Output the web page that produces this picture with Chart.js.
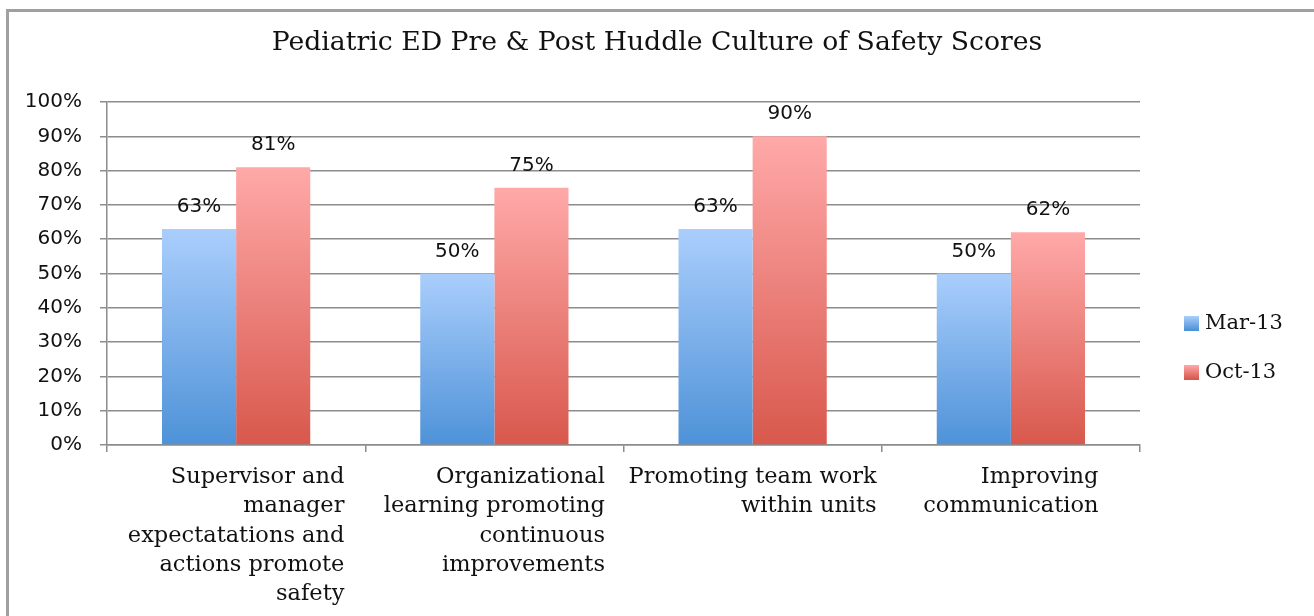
<!DOCTYPE html>
<html>
<head>
<meta charset="utf-8">
<script src="https://cdn.jsdelivr.net/npm/chart.js@4.4.0/dist/chart.umd.min.js"></script>
<style>
  html, body { margin: 0; padding: 0; background: #fff; overflow: hidden; }
  #frame { position: absolute; left: 6px; top: 9px; width: 1400px; height: 700px;
           border-left: 3px solid #a0a0a0; border-top: 3px solid #a0a0a0; }
  #wrap { position: absolute; left: 0; top: 0; width: 1314px; height: 616px; }
</style>
</head>
<body>
<div id="frame"></div>
<div id="wrap"><canvas id="chart"></canvas></div>
<script>
const categories = [
  ['Supervisor and', 'manager', 'expectatations and', 'actions promote', 'safety'],
  ['Organizational', 'learning promoting', 'continuous', 'improvements'],
  ['Promoting team work', 'within units'],
  ['Improving', 'communication']
];
const seriesNames = ['Mar-13', 'Oct-13'];
const mar13 = [63, 50, 63, 50];
const oct13 = [81, 75, 90, 62];
const yTicks = [0, 10, 20, 30, 40, 50, 60, 70, 80, 90, 100];

const slab = '"DejaVu Serif", serif';
const sans = '"DejaVu Sans", sans-serif';

const palette = [
  { top: '#aacefc', bottom: '#4e92d8', solid: '#78aee9' },
  { top: '#ffa9a9', bottom: '#d8584c', solid: '#ee8078' }
];

function barFill(i) {
  return (ctx) => {
    const chart = ctx.chart;
    if (!chart.chartArea || ctx.raw === undefined) return palette[i].solid;
    const y = chart.scales.y;
    const g = chart.ctx.createLinearGradient(0, y.getPixelForValue(ctx.raw), 0, y.getPixelForValue(0));
    g.addColorStop(0, palette[i].top);
    g.addColorStop(1, palette[i].bottom);
    return g;
  };
}

// value labels above bars
const valueLabels = {
  id: 'valueLabels',
  afterDatasetsDraw(chart) {
    const c = chart.ctx;
    c.save();
    c.font = '20px ' + sans;
    c.fillStyle = '#111';
    c.textAlign = 'center';
    c.textBaseline = 'alphabetic';
    chart.data.datasets.forEach((ds, di) => {
      chart.getDatasetMeta(di).data.forEach((el, i) => {
        c.fillText(ds.data[i] + '%', el.x, el.y - 17);
      });
    });
    c.restore();
  }
};

// category labels: block centred on category, lines right aligned
const catLabels = {
  id: 'catLabels',
  afterDraw(chart) {
    const c = chart.ctx;
    const x = chart.scales.x;
    c.save();
    c.font = '22.5px ' + slab;
    c.fillStyle = '#111';
    c.textAlign = 'right';
    c.textBaseline = 'alphabetic';
    categories.forEach((lines, i) => {
      const cx = x.getPixelForValue(i);
      const w = Math.max(...lines.map(l => c.measureText(l).width));
      lines.forEach((l, k) => {
        c.fillText(l, cx + w / 2, chart.chartArea.bottom + 38 + k * 29.3);
      });
    });
    c.restore();
  }
};

// legend on the right
const sideLegend = {
  id: 'sideLegend',
  afterDraw(chart) {
    const c = chart.ctx;
    const a = chart.chartArea;
    c.save();
    c.font = '21px ' + slab;
    c.textBaseline = 'middle';
    c.textAlign = 'left';
    seriesNames.forEach((name, i) => {
      const yc = a.bottom - 122 + i * 49;
      const bx = a.right + 44;
      const g = c.createLinearGradient(0, yc - 7, 0, yc + 7);
      g.addColorStop(0, palette[i].top);
      g.addColorStop(1, palette[i].bottom);
      c.fillStyle = g;
      c.fillRect(bx, yc - 7, 15, 15);
      c.fillStyle = '#111';
      c.fillText(name, bx + 21, yc + 1);
    });
    c.restore();
  }
};

new Chart(document.getElementById('chart'), {
  type: 'bar',
  data: {
    labels: categories,
    datasets: [
      { label: seriesNames[0], data: mar13, backgroundColor: barFill(0) },
      { label: seriesNames[1], data: oct13, backgroundColor: barFill(1) }
    ]
  },
  options: {
    responsive: true,
    maintainAspectRatio: false,
    animation: false,
    events: [],
    layout: { padding: { top: 0, right: 0, bottom: 164, left: 0 } },
    datasets: { bar: { categoryPercentage: 0.574, barPercentage: 1 } },
    plugins: {
      legend: { display: false },
      tooltip: { enabled: false },
      title: {
        display: true,
        text: 'Pediatric ED Pre & Post Huddle Culture of Safety Scores',
        color: '#111',
        font: { family: slab, size: 26.7, weight: 'normal' },
        padding: { top: 27, bottom: 43 }
      }
    },
    scales: {
      x: {
        type: 'category',
        offset: true,
        ticks: { display: false },
        grid: { display: true, drawOnChartArea: false, offset: true, tickLength: 7, color: '#8c8c8c', lineWidth: 1.5 },
        border: { display: true, color: '#8c8c8c', width: 1.5 }
      },
      y: {
        min: 0,
        max: 100,
        afterFit(s) { s.width = 107; },
        afterBuildTicks(s) { s.ticks = yTicks.map(v => ({ value: v })); },
        ticks: {
          padding: 18,
          color: '#111',
          font: { family: sans, size: 20 },
          callback: (v) => v + '%'
        },
        grid: { color: '#8c8c8c', lineWidth: 1.5, tickLength: 7 },
        border: { display: true, color: '#8c8c8c', width: 1.5 }
      },
      // empty right-hand axis that only reserves room for the legend
      legendSpace: {
        type: 'linear',
        position: 'right',
        display: true,
        afterFit(s) { s.width = 174; },
        ticks: { display: false },
        grid: { display: false },
        border: { display: false }
      }
    }
  },
  plugins: [valueLabels, catLabels, sideLegend]
});
</script>
</body>
</html>
